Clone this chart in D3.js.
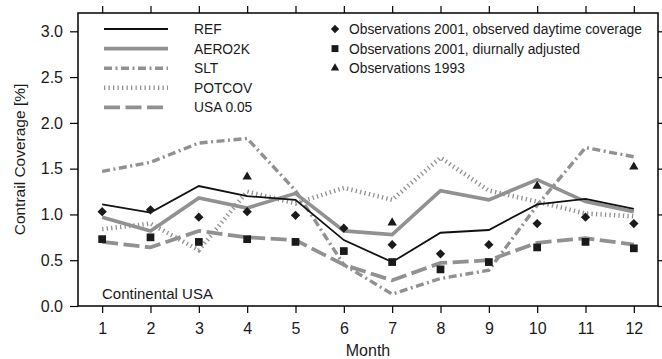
<!DOCTYPE html>
<html>
<head>
<meta charset="utf-8">
<script src="https://cdn.jsdelivr.net/npm/d3@7"></script>
<style>
  body { margin: 0; background: #fff; }
  svg { display: block; font-family: "Liberation Sans", Arial, sans-serif; }
  .axis path { display: none; }
  .axis line { stroke: #000; stroke-width: 1.2; }
  .axis text { font-size: 16px; fill: #1a1a1a; }
</style>
</head>
<body>
<script>
    // values
    var months = [1, 2, 3, 4, 5, 6, 7, 8, 9, 10, 11, 12];
    var yTicks = [0, 0.5, 1.0, 1.5, 2.0, 2.5, 3.0];

    var ref    = [1.11, 1.02, 1.31, 1.20, 1.16, 0.72, 0.48, 0.80, 0.83, 1.11, 1.17, 1.06];
    var aero2k = [0.97, 0.82, 1.18, 1.07, 1.23, 0.82, 0.78, 1.26, 1.16, 1.38, 1.14, 1.03];
    var slt    = [1.47, 1.57, 1.78, 1.83, 1.26, 0.45, 0.13, 0.30, 0.39, 1.10, 1.73, 1.63];
    var potcov = [0.84, 0.90, 0.61, 1.25, 1.12, 1.29, 1.16, 1.62, 1.26, 1.14, 1.01, 0.98];
    var usa005 = [0.70, 0.64, 0.82, 0.75, 0.72, 0.45, 0.28, 0.47, 0.50, 0.69, 0.74, 0.67];

    var obsDay     = [1.03, 1.05, 0.97, 1.03, 0.99, 0.85, 0.67, 0.57, 0.67, 0.90, 0.97, 0.90];
    var obsDiurnal = [0.73, 0.75, 0.70, 0.73, 0.70, 0.60, 0.48, 0.40, 0.48, 0.64, 0.70, 0.63];
    var obs1993    = [null, null, null, 1.41, null, null, 0.91, null, null, 1.31, null, 1.52];

    var grey = "#919191";

    var margin = {top: 13, right: 4, bottom: 53, left: 78},
    width = 662 - margin.left - margin.right,
    height = 359 - margin.top - margin.bottom;

    var x = d3.scaleLinear().domain([0.5, 12.5]).range([0, width]);
    var y = d3.scaleLinear().domain([0, 3.2]).range([height, 0]);

    var svg = d3.select("body").append("svg")
      .attr("width", 662)
      .attr("height", 359)
    .append("g")
      .attr("transform", "translate(" + margin.left + "," + margin.top + ")");

    //axes
    svg.append("g")
      .attr("class", "axis")
      .attr("transform", "translate(0," + height + ")")
      .call(d3.axisBottom(x).tickValues(months).tickSize(7).tickPadding(10).tickFormat(d3.format("d")));
    svg.append("g")
      .attr("class", "axis")
      .call(d3.axisTop(x).tickValues(months).tickSize(7).tickFormat(""));
    svg.append("g")
      .attr("class", "axis")
      .call(d3.axisLeft(y).tickValues(yTicks).tickSize(8).tickPadding(7).tickFormat(d3.format(".1f")));
    svg.append("g")
      .attr("class", "axis")
      .attr("transform", "translate(" + width + ",0)")
      .call(d3.axisRight(y).tickValues(yTicks).tickSize(6).tickFormat(""));

    //frame
    svg.append("rect")
      .attr("width", width)
      .attr("height", height)
      .attr("fill", "none")
      .attr("stroke", "#000")
      .attr("stroke-width", 1.5);

    var series = [
      {name: "REF",      values: ref,    color: "#111", width: 1.8, dash: null},
      {name: "AERO2K",   values: aero2k, color: grey,   width: 3.6, dash: null},
      {name: "SLT",      values: slt,    color: grey,   width: 3.4, dash: "8,3.5,2,3.5"},
      {name: "POTCOV",   values: potcov, color: grey,   width: 4.5, dash: "1.3,3.2"},
      {name: "USA 0.05", values: usa005, color: grey,   width: 3.8, dash: "16,5.5"}
    ];

    var line = d3.line()
      .x(function(d, i) { return x(months[i]); })
      .y(function(d) { return y(d); });

    //draw back to front so REF ends on top
    series.slice().reverse().forEach(function(s) {
      svg.append("path")
        .datum(s.values)
        .attr("fill", "none")
        .attr("stroke", s.color)
        .attr("stroke-width", s.width)
        .attr("stroke-dasharray", s.dash)
        .attr("d", line);
    });

    var markers = [
      {name: "Observations 2001, observed daytime coverage", values: obsDay,     symbol: d3.symbolDiamond2, size: 55},
      {name: "Observations 2001, diurnally adjusted",        values: obsDiurnal, symbol: d3.symbolSquare,   size: 60},
      {name: "Observations 1993",                            values: obs1993,    symbol: d3.symbolTriangle, size: 38}
    ];

    markers.forEach(function(m) {
      svg.selectAll(null)
        .data(m.values.map(function(v, i) { return {m: months[i], v: v}; })
          .filter(function(d) { return d.v !== null; }))
        .enter().append("path")
        .attr("d", d3.symbol().type(m.symbol).size(m.size))
        .attr("fill", "#1a1a1a")
        .attr("transform", function(d) { return "translate(" + x(d.m) + "," + y(d.v) + ")"; });
    });

    //legend, lines
    var leg = svg.append("g").attr("transform", "translate(26,16)");
    series.forEach(function(s, i) {
      var gy = i * 19.6;
      leg.append("line")
        .attr("x1", 0).attr("x2", 64)
        .attr("y1", gy).attr("y2", gy)
        .attr("stroke", s.color)
        .attr("stroke-width", s.width)
        .attr("stroke-dasharray", s.dash);
      leg.append("text")
        .attr("x", 90).attr("y", gy)
        .attr("dy", "0.36em")
        .style("font-size", "13.8px")
        .attr("fill", "#1a1a1a")
        .text(s.name);
    });

    //legend, markers
    var leg2 = svg.append("g").attr("transform", "translate(257,16)");
    markers.forEach(function(m, i) {
      var gy = i * 19.6;
      leg2.append("path")
        .attr("d", d3.symbol().type(m.symbol).size(m.size * 0.8))
        .attr("fill", "#1a1a1a")
        .attr("transform", "translate(0," + gy + ")");
      leg2.append("text")
        .attr("x", 14).attr("y", gy)
        .attr("dy", "0.36em")
        .style("font-size", "13.8px")
        .attr("fill", "#1a1a1a")
        .text(m.name);
    });

    svg.append("text")
      .attr("x", 24).attr("y", height - 7)
      .style("font-size", "15px")
      .attr("fill", "#1a1a1a")
      .text("Continental USA");

    //axis titles
    svg.append("text")
      .attr("x", width / 2).attr("y", height + 50)
      .attr("text-anchor", "middle")
      .style("font-size", "16px")
      .attr("fill", "#1a1a1a")
      .text("Month");

    svg.append("text")
      .attr("transform", "translate(" + (25 - margin.left) + "," + (height / 2) + ") rotate(-90)")
      .attr("text-anchor", "middle")
      .style("font-size", "15.5px")
      .attr("fill", "#1a1a1a")
      .text("Contrail Coverage [%]");
</script>
</body>
</html>
